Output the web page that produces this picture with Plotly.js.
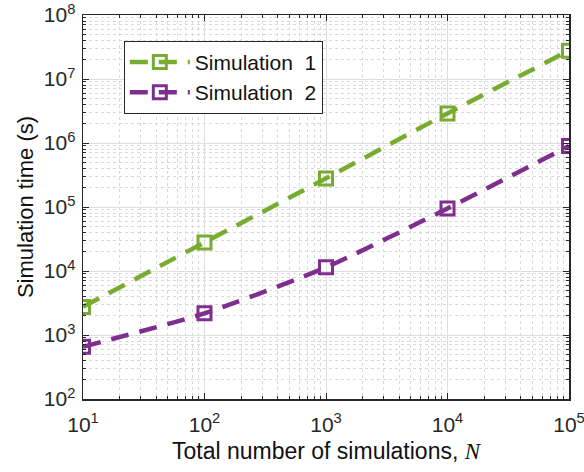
<!DOCTYPE html>
<html>
<head>
<meta charset="utf-8">
<script src="https://cdn.plot.ly/plotly-3.0.1.min.js"></script>
<style>
  html, body { margin: 0; padding: 0; background: #fff; }
  #chart { width: 584px; height: 472px; }
</style>
</head>
<body>
<div id="chart"></div>
<script>
// Total number of simulations N and the measured run times (seconds)
const simCounts = [10, 100, 1000, 10000, 100000];
const sim1Times = [2750, 28000, 280000, 2900000, 27700000];
const sim2Times = [656, 2180, 11400, 95000, 898000];
const seriesNames = ['Simulation\u00a0\u00a01', 'Simulation\u00a0\u00a02'];

const xTickVals = [10, 100, 1000, 10000, 100000];
const xTickText = ['10<sup>1</sup>', '10<sup>2</sup>', '10<sup>3</sup>', '10<sup>4</sup>', '10<sup>5</sup>'];
const yTickVals = [100, 1000, 10000, 100000, 1000000, 10000000, 100000000];
const yTickText = ['10<sup>2</sup>', '10<sup>3</sup>', '10<sup>4</sup>', '10<sup>5</sup>', '10<sup>6</sup>', '10<sup>7</sup>', '10<sup>8</sup>'];

// minor grid at 2..9 within each decade
function minorVals(lo, hi) {
  const out = [];
  for (let e = lo; e < hi; e++) {
    for (let m = 2; m <= 9; m++) out.push(m * Math.pow(10, e));
  }
  return out;
}

const green = '#77AC30';
const purple = '#7E2F8E';

function series(name, y, color) {
  return {
    x: simCounts, y: y, name: name, type: 'scatter', mode: 'lines+markers',
    line: { color: color, width: 4.5, dash: '18px,11px', shape: 'spline', smoothing: 0.6 },
    marker: { symbol: 'square-open', size: 13, color: color, line: { width: 3, color: color } }
  };
}

const sans = 'Liberation Sans, Arial, sans-serif';
const axisFont = { family: sans, size: 21, color: '#262626' };

const common = {
  type: 'log', showline: true, linecolor: '#262626', linewidth: 1.5, mirror: 'allticks',
  ticks: 'inside', ticklen: 6, tickcolor: '#262626', tickwidth: 1,
  showgrid: true, gridcolor: '#dedede', gridwidth: 1,
  zeroline: false, tickmode: 'array', tickfont: axisFont, ticklabeloverflow: 'allow'
};

const layout = {
  width: 584, height: 472,
  margin: { l: 83, r: 15, t: 15, b: 73 },
  paper_bgcolor: '#fff', plot_bgcolor: '#fff',
  showlegend: true,
  legend: {
    x: 0.084, y: 0.933, xanchor: 'left', yanchor: 'top',
    bgcolor: '#fff', bordercolor: '#262626', borderwidth: 1,
    font: { family: sans, size: 21, color: '#111' },
    itemwidth: 60, tracegroupgap: 0
  },
  xaxis: Object.assign({}, common, {
    range: [1, 5], tickvals: xTickVals, ticktext: xTickText, ticklabelstandoff: 6,
    minor: { tickmode: 'array', tickvals: minorVals(1, 5), ticks: 'inside', ticklen: 3,
             tickcolor: '#262626', showgrid: true, gridcolor: '#d9d9d9', griddash: 'dot', gridwidth: 1 },
    title: { text: 'Total number of simulations, <i><span style="font-family:Liberation Serif, Times New Roman, serif">N</span></i>',
             font: { family: sans, size: 23, color: '#111' }, standoff: 8 }
  }),
  yaxis: Object.assign({}, common, {
    range: [2, 8], tickvals: yTickVals, ticktext: yTickText, ticklabelstandoff: 2,
    minor: { tickmode: 'array', tickvals: minorVals(2, 8), ticks: 'inside', ticklen: 3,
             tickcolor: '#262626', showgrid: true, gridcolor: '#d9d9d9', griddash: 'dot', gridwidth: 1 },
    title: { text: 'Simulation time (s)',
             font: { family: sans, size: 22, color: '#111' }, standoff: 4 }
  })
};

Plotly.newPlot('chart', [series(seriesNames[0], sim1Times, green), series(seriesNames[1], sim2Times, purple)],
  layout, { staticPlot: true, displayModeBar: false });
</script>
</body>
</html>
